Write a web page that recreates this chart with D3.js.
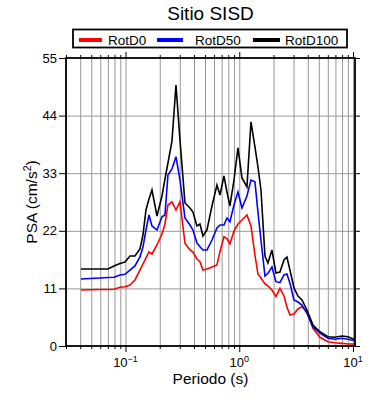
<!DOCTYPE html>
<html>
<head>
<meta charset="utf-8">
<script src="https://cdn.jsdelivr.net/npm/d3@7"></script>
<style>
  html, body { margin: 0; padding: 0; background: #fff; }
  svg { display: block; font-family: "Liberation Sans", Arial, Helvetica, sans-serif; }
</style>
</head>
<body>
<svg id="chart" width="390" height="400"></svg>
<script>
// ---------------- data ----------------
const title = "Sitio SISD";
const seriesNames = ["RotD0", "RotD50", "RotD100"];
const seriesColors = ["#ff0000", "#0000ff", "#000000"];
const xLabel = "Periodo (s)";
const yTickValues = [0, 11, 22, 33, 44, 55];
const xMajorTicks = [0.1, 1, 10];
const xMajorExp = ["\u22121", "0", "1"];

const periods = [0.0406, 0.0488, 0.0597, 0.0702, 0.0792, 0.0894, 0.099, 0.1095, 0.1211, 0.134,
  0.1424, 0.1514, 0.1608, 0.1709, 0.1891, 0.2092, 0.2222, 0.2361, 0.2561, 0.2778,
  0.3012, 0.3332, 0.3686, 0.3917, 0.4246, 0.4512, 0.4796, 0.52, 0.5754, 0.6366,
  0.6764, 0.7333, 0.7793, 0.828, 0.898, 0.9737, 1.056, 1.168, 1.267, 1.373,
  1.459, 1.551, 1.682, 1.786, 1.937, 2.1, 2.278, 2.47, 2.624, 2.788,
  3.024, 3.28, 3.555, 3.934, 4.441, 5.117, 6.016, 6.931, 7.984, 9.016, 10.39];

const rotD0 = [10.70, 10.75, 10.79, 10.79, 10.83, 11.21, 11.33, 11.65, 12.61, 14.51,
  15.66, 16.81, 17.95, 17.57, 19.29, 21.39, 23.30, 26.93, 27.50, 25.97,
  27.56, 19.61, 18.33, 17.95, 16.62, 16.10, 14.51, 14.71, 15.09, 15.47,
  18.01, 20.87, 20.53, 19.48, 21.96, 23.30, 24.06, 25.02, 22.92, 17.38,
  13.75, 12.99, 11.84, 11.46, 10.70, 9.42, 11.02, 9.55, 7.45, 5.92,
  6.11, 7.07, 7.51, 6.55, 3.38, 1.66, 0.82, 0.63, 0.51, 0.38, 0.38];

const rotD50 = [12.80, 12.89, 12.99, 13.08, 13.12, 13.56, 13.69, 14.51, 15.28, 17.00,
  18.91, 22.15, 25.02, 22.92, 22.15, 24.69, 25.02, 32.66, 33.80, 36.15,
  31.70, 24.45, 23.11, 22.15, 19.67, 18.96, 18.33, 18.33, 20.24, 22.54,
  23.11, 23.11, 24.45, 23.74, 26.93, 29.41, 26.36, 28.65, 31.70, 31.38,
  25.59, 20.24, 13.37, 13.88, 15.09, 12.28, 12.09, 13.56, 13.75, 11.97,
  8.79, 8.40, 7.83, 6.25, 3.69, 2.48, 1.47, 1.28, 1.47, 1.28, 0.99];

const rotD100 = [14.71, 14.71, 14.71, 14.71, 15.28, 15.76, 16.04, 17.19, 17.19, 18.53,
  21.20, 25.97, 28.07, 29.79, 24.83, 28.65, 31.89, 34.95, 39.10, 49.85,
  39.34, 27.31, 26.36, 25.59, 22.92, 23.30, 21.01, 22.15, 26.74, 30.75,
  28.84, 32.47, 29.41, 26.74, 31.70, 37.82, 32.09, 30.37, 42.78, 38.01,
  34.19, 29.79, 17.19, 15.85, 18.33, 13.94, 14.13, 16.42, 17.00, 14.51,
  11.08, 9.55, 8.79, 6.88, 4.01, 2.73, 1.78, 1.66, 1.91, 1.78, 1.24];

const seriesValues = [rotD0, rotD50, rotD100];

// ---------------- layout ----------------
const svg = d3.select("#chart");
const plot = { left: 66, right: 355, top: 58, bottom: 346 };
const W = plot.right - plot.left, H = plot.bottom - plot.top;

const x = d3.scaleLog().domain([0.03, 10.4]).range([plot.left, plot.right]);
const y = d3.scaleLinear().domain([0, 55]).range([plot.bottom, plot.top]);

// minor ticks (2..9 x 10^k) within domain
const xMinor = [];
[0.01, 0.1, 1].forEach(d => { for (let k = 2; k <= 9; k++) { const v = +(d * k).toPrecision(3); if (v >= 0.03 && v <= 10.4) xMinor.push(v); } });
const xGridVals = xMinor.concat(xMajorTicks);

// ---------------- grid ----------------
const gridColor = "#999999";
const gx = svg.append("g").attr("transform", `translate(0,${plot.bottom})`)
  .call(d3.axisBottom(x).tickValues(xGridVals).tickSize(-H).tickFormat(""));
gx.select(".domain").remove();
gx.selectAll("line").attr("stroke", gridColor).attr("stroke-width", 1);

const gy = svg.append("g").attr("transform", `translate(${plot.left},0)`)
  .call(d3.axisLeft(y).tickValues(yTickValues.filter(v => v > 0 && v < 55)).tickSize(-W).tickFormat(""));
gy.select(".domain").remove();
gy.selectAll("line").attr("stroke", gridColor).attr("stroke-width", 1);

// ---------------- lines ----------------
svg.append("clipPath").attr("id", "clip").append("rect")
  .attr("x", plot.left).attr("y", plot.top).attr("width", W).attr("height", H);

const line = d3.line().x((d, i) => x(periods[i])).y(d => y(d));
const order = [0, 1, 2];
order.forEach(s => {
  svg.append("path")
    .datum(seriesValues[s])
    .attr("clip-path", "url(#clip)")
    .attr("fill", "none")
    .attr("stroke", seriesColors[s])
    .attr("stroke-width", 1.6)
    .attr("stroke-linejoin", "miter")
    .attr("d", line);
});

// ---------------- axes / ticks ----------------
function styleAxis(g) {
  g.select(".domain").remove();
  g.selectAll("line").attr("stroke", "#000").attr("stroke-width", 1);
  g.selectAll("text").remove();
}
// bottom
svg.append("g").attr("transform", `translate(0,${plot.bottom})`)
  .call(d3.axisBottom(x).tickValues(xMinor).tickSize(3).tickFormat("")).call(styleAxis);
svg.append("g").attr("transform", `translate(0,${plot.bottom})`)
  .call(d3.axisBottom(x).tickValues(xMajorTicks).tickSize(6).tickFormat("")).call(styleAxis);
// top
svg.append("g").attr("transform", `translate(0,${plot.top})`)
  .call(d3.axisTop(x).tickValues(xMinor).tickSize(3).tickFormat("")).call(styleAxis);
svg.append("g").attr("transform", `translate(0,${plot.top})`)
  .call(d3.axisTop(x).tickValues(xMajorTicks).tickSize(6).tickFormat("")).call(styleAxis);
// left
const yl = svg.append("g").attr("transform", `translate(${plot.left},0)`)
  .call(d3.axisLeft(y).tickValues(yTickValues).tickSize(7).tickPadding(2).tickSizeOuter(0));
yl.select(".domain").remove();
yl.selectAll("line").attr("stroke", "#000").attr("stroke-width", 1);
yl.selectAll("text").attr("font-size", 13).attr("fill", "#000")
  .attr("font-family", "Liberation Sans, Arial, sans-serif");
// right
svg.append("g").attr("transform", `translate(${plot.right},0)`)
  .call(d3.axisRight(y).tickValues(yTickValues).tickSize(5).tickFormat("")).call(styleAxis);

// x tick labels with superscripts
const xl = svg.append("g");
xMajorTicks.forEach((v, i) => {
  const t = xl.append("text")
    .attr("x", x(v)).attr("y", plot.bottom + 21)
    .attr("text-anchor", "middle")
    .attr("font-size", 13).attr("fill", "#000");
  t.append("tspan").text("10");
  t.append("tspan").attr("font-size", 9).attr("dy", -5).text(xMajorExp[i]);
});

// frame
svg.append("rect")
  .attr("x", plot.left).attr("y", plot.top).attr("width", W).attr("height", H)
  .attr("fill", "none").attr("stroke", "#000").attr("stroke-width", 1.8);

// axis titles
svg.append("text").attr("x", (plot.left + plot.right) / 2).attr("y", 384)
  .attr("text-anchor", "middle").attr("font-size", 15.5).text(xLabel);

const yt = svg.append("text")
  .attr("transform", `translate(37,${(plot.top + plot.bottom) / 2}) rotate(-90)`)
  .attr("text-anchor", "middle").attr("font-size", 15.5);
yt.append("tspan").text("PSA (cm/s");
yt.append("tspan").attr("font-size", 10.5).attr("dy", -6).text("2");
yt.append("tspan").attr("dy", 6).text(")");

// title
svg.append("text").attr("x", (plot.left + plot.right) / 2).attr("y", 20)
  .attr("text-anchor", "middle").attr("font-size", 19).text(title);

// legend
const leg = svg.append("g");
leg.append("rect").attr("x", 73).attr("y", 29.5).attr("width", 274).attr("height", 18)
  .attr("fill", "#fff").attr("stroke", "#000").attr("stroke-width", 1.8);
const legX = [79, 157, 253];
const legLen = [23, 26, 27];
const legTextX = [108, 195, 285];
seriesNames.forEach((n, i) => {
  leg.append("line").attr("x1", legX[i]).attr("x2", legX[i] + legLen[i])
    .attr("y1", 40).attr("y2", 40)
    .attr("stroke", seriesColors[i]).attr("stroke-width", 4);
  leg.append("text").attr("x", legTextX[i]).attr("y", 44.5)
    .attr("font-size", 13.5).text(n);
});
</script>
</body>
</html>
